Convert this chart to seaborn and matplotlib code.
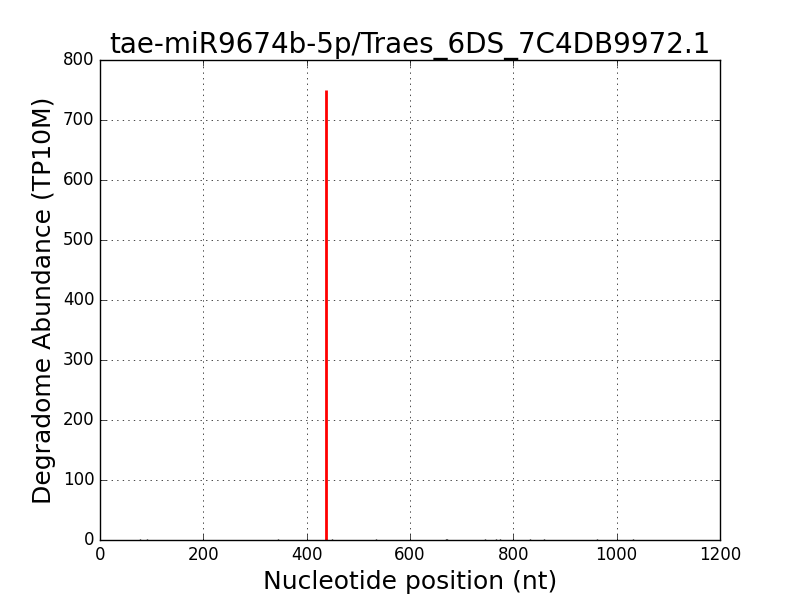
import matplotlib
matplotlib.use("Agg")
import matplotlib.pyplot as plt
import seaborn as sns
import pandas as pd

# degradome reads along the transcript
positions = [77, 90, 345, 449, 534, 669, 672, 746, 766, 774, 832, 860, 961, 1031]
abundance = [1.5, 1.5, 1.5, 1.5, 1.5, 1.5, 1.5, 1.5, 1.5, 1.5, 1.5, 1.5, 1.5, 1.5]

# cleavage site predicted for the miRNA
site_pos = [438]
site_abund = [750]

title = "tae-miR9674b-5p/Traes_6DS_7C4DB9972.1"

plt.style.use("classic")
plt.rcParams["lines.scale_dashes"] = False

reads = pd.DataFrame({"pos": positions, "tp10m": abundance})
site = pd.DataFrame({"pos": site_pos, "tp10m": site_abund})

fig, ax = plt.subplots(figsize=(8, 6), dpi=100)
fig.subplots_adjust(left=0.125, right=0.9, bottom=0.1, top=0.9)

ax.vlines(reads["pos"], 0, reads["tp10m"], colors="black", linewidth=1)
ax.vlines(site["pos"], 0, site["tp10m"], colors="red", linewidth=2)

ax.set_xlim(0, 1200)
ax.set_ylim(0, 800)
ax.grid(True, linestyle=(0, (1, 3)), linewidth=0.5, color="black")
ax.tick_params(labelsize=12)
ax.set_title(title, fontsize=20)
ax.set_xlabel("Nucleotide position (nt)", fontsize=18)
ax.set_ylabel("Degradome Abundance (TP10M)", fontsize=18)

fig.savefig("out.png", dpi=100)
